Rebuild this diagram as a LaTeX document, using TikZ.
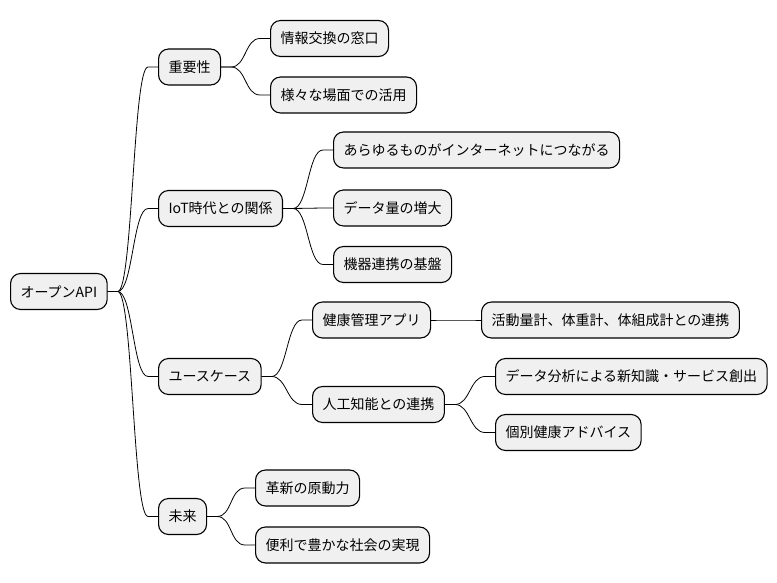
\documentclass[tikz,border=0pt]{standalone}
\usepackage{fontspec}
\setmainfont{Noto Sans CJK JP}
\begin{document}
\begin{tikzpicture}[x=1pt,y=-1pt,
  mm/.style={draw=black, line width=1.1pt, fill=gray!12, rounded corners=10pt,
    inner xsep=10pt, inner ysep=0pt, minimum height=36pt, anchor=west,
    font=\fontsize{14pt}{17pt}\selectfont, text=black},
  link/.style={draw=black, line width=0.8pt,
    to path={-- ++(10pt,0) .. controls +(15pt,0) and +(-15pt,0) .. ([xshift=-10pt]\tikztotarget) -- (\tikztotarget)}}]
\useasboundingbox (0,0) rectangle (777,583);
\node[mm] (root) at (10,291.5) {オープンAPI};
\node[mm] (a) at (158,67) {重要性};
\node[mm] (a1) at (270,38.5) {情報交換の窓口};
\node[mm] (a2) at (270,95) {様々な場面での活用};
\node[mm] (b) at (158,208.5) {IoT時代との関係};
\node[mm] (b1) at (333,150) {あらゆるものがインターネットにつながる};
\node[mm] (b2) at (333,208) {データ量の増大};
\node[mm] (b3) at (333,264.5) {機器連携の基盤};
\node[mm] (c) at (158,376.5) {ユースケース};
\node[mm] (c1) at (312,320) {健康管理アプリ};
\node[mm] (c11) at (481,320) {活動量計、体重計、体組成計との連携};
\node[mm] (c2) at (312,404.5) {人工知能との連携};
\node[mm] (c21) at (495,376.5) {データ分析による新知識・サービス創出};
\node[mm] (c22) at (495,432.5) {個別健康アドバイス};
\node[mm] (d) at (158,516.5) {未来};
\node[mm] (d1) at (255,488) {革新の原動力};
\node[mm] (d2) at (255,545) {便利で豊かな社会の実現};
\foreach \p/\c in {root/a, root/b, root/c, root/d, a/a1, a/a2, b/b1, b/b2, b/b3, c/c1, c/c2, c1/c11, c2/c21, c2/c22, d/d1, d/d2}
  \draw[link] (\p.east) to (\c.west);
\end{tikzpicture}
\end{document}
